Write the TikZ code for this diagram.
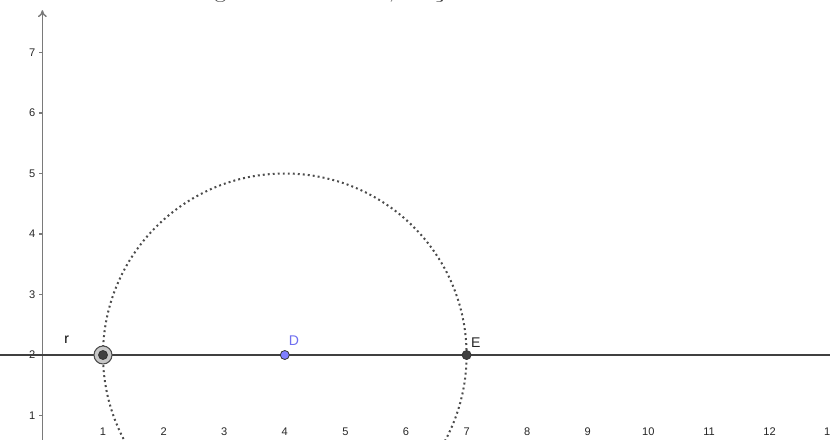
\documentclass[tikz,border=0pt]{standalone}
\usepackage{fontspec}
\usetikzlibrary{arrows.meta}
\newfontfamily\geo{Liberation Sans}
\definecolor{axisgray}{HTML}{7A7A7A}
\definecolor{linegray}{HTML}{404040}
\definecolor{ptblue}{HTML}{7F7FFF}
\definecolor{lblblue}{HTML}{6F6FF0}
\tikzset{
  axis/.style={draw=axisgray, line width=0.8pt},
  ticklbl/.style={font=\geo\fontsize{6.3pt}{7pt}\selectfont, text=black!85, inner sep=0pt},
  ptlbl/.style={font=\geo\fontsize{8pt}{9pt}\selectfont, inner sep=0pt},
  lineR/.style={draw=linegray, line width=1.1pt},
  dotcirc/.style={draw=black!70, line width=1.15pt, dash pattern=on 1.1pt off 1.75pt},
  pt/.style={circle, draw=black!80, line width=0.45pt, minimum size=0.18cm, inner sep=0pt},
}
\begin{document}
\begin{tikzpicture}[x=1.212cm,y=1.21cm]
\useasboundingbox (-0.6997,0.6116) rectangle (12.997,7.868);
\clip (-0.6997,0.6116) rectangle (12.997,7.868);
% cut-off title
\node[anchor=base, font=\fontsize{14pt}{16pt}\selectfont, text=black!75, inner sep=0pt] (title) at (6.16,7.905) {Figura 5 – Passo 3, traçar a circunferência};
% y axis
\coordinate (ybot) at (0,0.5);
\coordinate (ytop) at (0,7.70);
\draw[axis, -{To[length=4pt,width=5pt]}] (ybot) -- (ytop);
\foreach \k in {1,...,7}{
  \draw[axis] (-0.055,\k) -- (0,\k);
  \node[ticklbl] (yl\k) at (-0.17,\k) {\k};
}
\foreach \k in {1,...,13}{
  \node[ticklbl] (xl\k) at (\k,0.727) {\k};
}
% line r
\coordinate (rL) at (-1,2);
\coordinate (rR) at (14,2);
\draw[lineR] (rL) -- (rR);
% dotted circle
\coordinate (D) at (4,2);
\draw[dotcirc] (D) circle[x radius=3, y radius=3];
% point at (1,2), highlighted
\coordinate (A) at (1,2);
\node[circle, draw=black!70, fill=black!22, line width=0.6pt, minimum size=0.36cm, inner sep=0pt] (Ahalo) at (A) {};
\node[pt, fill=linegray] (Apt) at (A) {};
% D
\node[pt, fill=ptblue] (Dpt) at (D) {};
% E
\coordinate (E) at (7,2);
\node[pt, fill=linegray] (Ept) at (E) {};
% labels
\node[ptlbl, text=black] (rlbl) at (0.40,2.26) {r};
\node[ptlbl, text=lblblue] (Dlbl) at (4.15,2.23) {D};
\node[ptlbl, text=black!85] (Elbl) at (7.15,2.20) {E};
\end{tikzpicture}
\end{document}
